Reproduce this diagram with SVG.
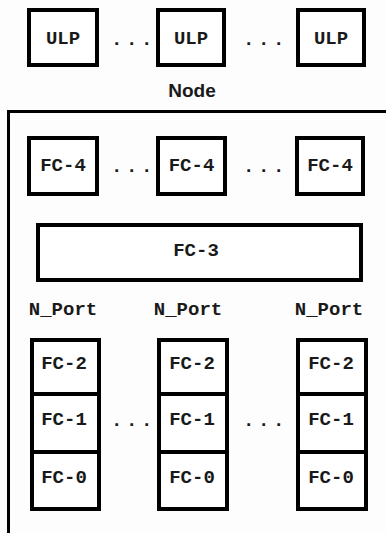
<svg xmlns="http://www.w3.org/2000/svg" width="386" height="533" viewBox="0 0 386 533">
  <style>
    .box { fill: #ffffff; stroke: #000000; stroke-width: 4; }
    .frame { fill: none; stroke: #000000; stroke-width: 3; }
    .lbl { font-family: "Courier New", "Nimbus Mono PS", "Liberation Mono", monospace; font-weight: bold; font-size: 19px; fill: #1a1a1a; text-anchor: middle; }
    .dots { font-family: "Courier New", "Nimbus Mono PS", "Liberation Mono", monospace; font-weight: bold; font-size: 19px; fill: #1a1a1a; letter-spacing: 3.6px; }
    .title { font-family: "Liberation Sans", Arial, sans-serif; font-weight: bold; font-size: 19px; fill: #1a1a1a; text-anchor: middle; }
  </style>
  <rect width="386" height="533" fill="#fdfdfd"/>

  <!-- upper layer protocols -->
  <g id="ulp-1"><rect class="box" x="29" y="10" width="68" height="55"/><text class="lbl" x="63" y="44">ULP</text></g>
  <g id="ulp-2"><rect class="box" x="158" y="10" width="66" height="55"/><text class="lbl" x="191" y="44">ULP</text></g>
  <g id="ulp-3"><rect class="box" x="298" y="10" width="66" height="55"/><text class="lbl" x="331" y="44">ULP</text></g>
  <text class="dots" x="111" y="45">...</text>
  <text class="dots" x="243" y="45">...</text>

  <!-- node boundary -->
  <g id="node">
    <text class="title" x="192" y="97">Node</text>
    <path class="frame" d="M386 111.5 H8.5 V533"/>
  </g>

  <!-- FC-4 mappings -->
  <g id="fc4-1"><rect class="box" x="29" y="138" width="68" height="56"/><text class="lbl" x="63" y="171">FC-4</text></g>
  <g id="fc4-2"><rect class="box" x="158" y="138" width="67" height="56"/><text class="lbl" x="191.5" y="171">FC-4</text></g>
  <g id="fc4-3"><rect class="box" x="297" y="138" width="66" height="56"/><text class="lbl" x="330" y="171">FC-4</text></g>
  <text class="dots" x="111" y="172">...</text>
  <text class="dots" x="243" y="172">...</text>

  <!-- FC-3 common services -->
  <g id="fc3"><rect class="box" x="38" y="225" width="323" height="55"/><text class="lbl" x="196" y="256">FC-3</text></g>

  <!-- N_Port stacks -->
  <g id="nport-1">
    <text class="lbl" x="63" y="315">N_Port</text>
    <rect class="box" x="32" y="340" width="67" height="169"/>
    <line x1="32" y1="394" x2="99" y2="394" stroke="#000" stroke-width="4"/>
    <line x1="32" y1="452" x2="99" y2="452" stroke="#000" stroke-width="4"/>
    <text class="lbl" x="64" y="369">FC-2</text>
    <text class="lbl" x="64" y="425">FC-1</text>
    <text class="lbl" x="64" y="483">FC-0</text>
  </g>
  <g id="nport-2">
    <text class="lbl" x="188" y="315">N_Port</text>
    <rect class="box" x="159" y="340" width="68" height="169"/>
    <line x1="159" y1="394" x2="227" y2="394" stroke="#000" stroke-width="4"/>
    <line x1="159" y1="452" x2="227" y2="452" stroke="#000" stroke-width="4"/>
    <text class="lbl" x="192" y="369">FC-2</text>
    <text class="lbl" x="192" y="425">FC-1</text>
    <text class="lbl" x="192" y="483">FC-0</text>
  </g>
  <g id="nport-3">
    <text class="lbl" x="329" y="315">N_Port</text>
    <rect class="box" x="298" y="340" width="68" height="169"/>
    <line x1="298" y1="394" x2="366" y2="394" stroke="#000" stroke-width="4"/>
    <line x1="298" y1="452" x2="366" y2="452" stroke="#000" stroke-width="4"/>
    <text class="lbl" x="331" y="369">FC-2</text>
    <text class="lbl" x="331" y="425">FC-1</text>
    <text class="lbl" x="331" y="483">FC-0</text>
  </g>
  <text class="dots" x="111" y="426">...</text>
  <text class="dots" x="243" y="426">...</text>

  <g id="connectors"/>
</svg>
